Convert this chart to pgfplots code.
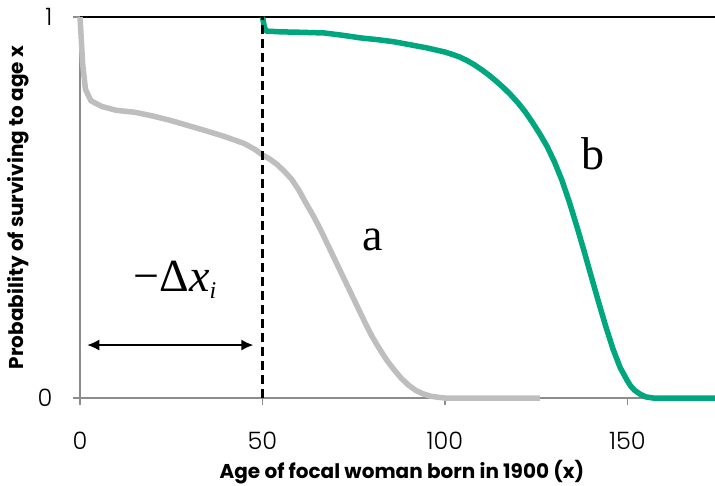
\documentclass[border=0pt]{standalone}
\usepackage{fontspec}
\setmainfont{Poppins}
\newfontfamily\poplight{Poppins Light}
\newfontfamily\serifed{Liberation Serif}
\usepackage{pgfplots}
\pgfplotsset{compat=1.18}
\usetikzlibrary{arrows.meta}
\definecolor{grn}{RGB}{0,166,126}
\definecolor{lgray}{RGB}{190,190,190}
\definecolor{axgray}{RGB}{140,140,140}
\begin{document}
\begin{tikzpicture}
\begin{axis}[name=ax,
  scale only axis, width=635pt, height=381pt,
  xmin=0, xmax=174, ymin=0, ymax=1,
  axis lines*=left,
  axis line style={axgray, line width=1.8pt},
  xtick={0,50,100,150}, ytick={0,1},
  tick style={axgray, line width=1.2pt},
  major tick length=7pt, tick align=outside,
  /pgf/number format/assume math mode=true,
  ticklabel style={font=\poplight\fontsize{24}{24}\selectfont},
  xticklabel style={yshift=-24pt},
  yticklabel style={xshift=-17pt},
  xlabel={Age of focal woman born in 1900 (x)},
  ylabel={Probability of surviving to age x},
  label style={font=\bfseries\fontsize{20}{22}\selectfont},
  xlabel style={at={(axis description cs:0.507,-0.195)}, anchor=center},
  ylabel style={at={(axis description cs:-0.0976,0.5)}, anchor=center},
  clip=false,
]
% top reference line
\addplot[black, line width=1.3pt] coordinates {(0,1) (174,1)};
% curve a
\addplot[lgray, line width=5.5pt, line join=round] coordinates {
(0,1) (0.3,0.95) (0.7,0.88) (1.5,0.81) (3,0.78) (6,0.765) (10,0.755) (15,0.75)
(20,0.74) (25,0.728) (30,0.714) (35,0.70) (40,0.685) (45,0.668) (48,0.652) (50,0.638)
(52,0.627) (54,0.613) (56,0.595) (58,0.574) (60,0.545) (62,0.51) (64,0.477) (66,0.44)
(68,0.40) (70,0.36) (72,0.32) (74,0.28) (76,0.24) (78,0.20) (80,0.162) (82,0.13)
(84,0.10) (86,0.075) (88,0.052) (90,0.034) (92,0.02) (94,0.011) (96,0.005) (98,0.002) (100,0) (126,0)};
% curve b
\addplot[grn, line width=5.5pt, line join=round] coordinates {
(50,1) (50.5,0.975) (51,0.963) (55,0.961) (60,0.960) (67,0.958) (72,0.952)
(77,0.945) (82,0.94) (86,0.935) (90,0.928) (95,0.919) (100,0.908) (102,0.902) (104,0.895)
(106,0.886) (108,0.875) (110,0.862) (112,0.848) (114,0.832) (116,0.815) (118,0.796)
(120,0.775) (122,0.751) (124,0.723) (126,0.693) (128,0.66) (130,0.62)
(132,0.573) (134,0.517) (136,0.455) (138,0.39) (140,0.322) (142,0.255)
(144,0.19) (146,0.13) (148,0.08) (150,0.045) (151,0.03) (152,0.02) (153.5,0.01)
(155,0.003) (157,0) (174,0)};
% dashed vertical
\addplot[black, line width=3.2pt, dash pattern=on 9pt off 5pt] coordinates {(50,0) (50,1)};
\draw[{Latex[length=12pt,width=11pt]}-{Latex[length=12pt,width=11pt]}, line width=1.5pt]
  (axis cs:2,0.139) -- (axis cs:47.5,0.139);
\node[font=\serifed\fontsize{46}{46}\selectfont] at (axis cs:26,0.31)
  {−Δ\textit{x}\raisebox{-7pt}{\fontsize{24}{24}\selectfont\textit{i}}};
\node[font=\serifed\fontsize{46}{46}\selectfont] at (axis cs:80.2,0.415) {a};
\node[font=\serifed\fontsize{46}{46}\selectfont] at (axis cs:140.5,0.64) {b};
\end{axis}
\pgfresetboundingbox
\path ([xshift=-80pt,yshift=-87pt]ax.south west) rectangle ([yshift=17pt]ax.north east);
\end{tikzpicture}
\end{document}
